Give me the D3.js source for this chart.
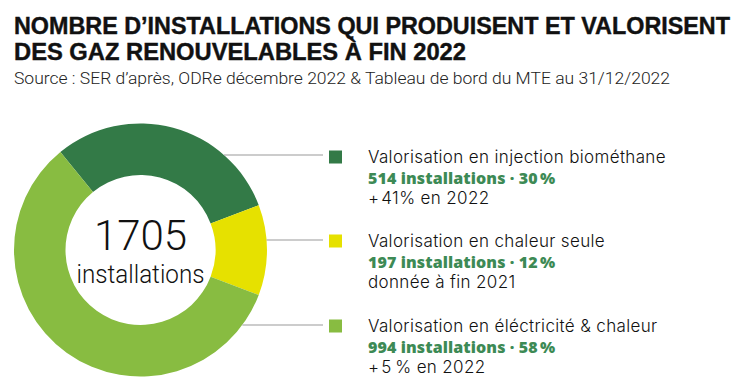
<!DOCTYPE html>
<html>
<head>
<meta charset="utf-8">
<script src="https://cdn.jsdelivr.net/npm/d3@7"></script>
<style>
  html, body { margin: 0; padding: 0; background: #fff; }
  svg { display: block; }
</style>
</head>
<body>
<div id="chart"></div>
<script>
// ---------------------------------------------------------------------------//
// Data
// ---------------------------------------------------------------------------//
const categories = [
  "Valorisation en injection biométhane",
  "Valorisation en chaleur seule",
  "Valorisation en éléctricité & chaleur",
];
const counts = [514, 197, 994];
const shares = ["30\u202f%", "12\u202f%", "58\u202f%"];
const notes = ["+\u200a41% en 2022", "donnée à fin 2021", "+\u200a5\u202f% en 2022"];
const colors = ["#337a47", "#e6e100", "#88bc41"];
const total = 1705;

const titleLines = [
  "NOMBRE D\u2019INSTALLATIONS QUI PRODUISENT ET VALORISENT",
  "DES GAZ RENOUVELABLES À FIN 2022",
];
const sourceText = "Source : SER d\u2019après, ODRe décembre 2022 & Tableau de bord du MTE au 31/12/2022";

// ---------------------------------------------------------------------------//
// Layout
// ---------------------------------------------------------------------------//
const width = 740;
const height = 389;
const cx = 140.5, cy = 250;
const outerR = 126.5, innerR = 75;
const legendX = 329, textX = 368;
const legendRows = [157, 241, 326]; // y of swatch centre
const fontFamily = "Roboto, 'Liberation Sans', sans-serif";
const legendFont = "Inter, Roboto, sans-serif";

const svg = d3.select("#chart")
  .append("svg")
  .attr("width", width)
  .attr("height", height);

// Title
svg.selectAll("text.title")
  .data(titleLines)
  .join("text")
  .attr("class", "title")
  .attr("x", 14)
  .attr("y", (d, i) => 34 + i * 26)
  .attr("font-family", "'Liberation Sans', Arial, sans-serif")
  .attr("font-weight", "bold")
  .attr("font-size", 23)
  .attr("fill", "#111")
  .attr("stroke", "#111")
  .attr("stroke-width", 0.4)
  .attr("textLength", (d, i) => (i === 0 ? 716 : 452))
  .attr("lengthAdjust", "spacingAndGlyphs")
  .text((d) => d);

svg.append("text")
  .attr("x", 14)
  .attr("y", 84)
  .attr("font-family", fontFamily)
  .attr("font-weight", 300)
  .attr("font-size", 16)
  .attr("fill", "#222")
  .attr("textLength", 656)
  .attr("lengthAdjust", "spacingAndGlyphs")
  .text(sourceText);

// ---------------------------------------------------------------------------//
// Donut
// ---------------------------------------------------------------------------//
const pie = d3.pie()
  .sort(null)
  .value((d) => d)
  .startAngle(-0.686)
  .endAngle(-0.686 + 2 * Math.PI);

const arc = d3.arc().innerRadius(innerR).outerRadius(outerR);

const donut = svg.append("g").attr("transform", `translate(${cx},${cy})`);

donut.selectAll("path")
  .data(pie(counts))
  .join("path")
  .attr("d", arc)
  .attr("fill", (d, i) => colors[i]);

donut.append("text")
  .attr("text-anchor", "middle")
  .attr("y", 0)
  .attr("font-family", fontFamily)
  .attr("font-weight", 300)
  .attr("font-size", 42)
  .attr("fill", "#111")
  .text(total);

donut.append("text")
  .attr("text-anchor", "middle")
  .attr("y", 33)
  .attr("font-family", fontFamily)
  .attr("font-weight", 300)
  .attr("font-size", 26)
  .attr("fill", "#111")
  .attr("textLength", 128)
  .attr("lengthAdjust", "spacingAndGlyphs")
  .text("installations");

// ---------------------------------------------------------------------------//
// Connectors + legend
// ---------------------------------------------------------------------------//
const connectorY = [155, 240, 325];
svg.selectAll("line.connector")
  .data(connectorY)
  .join("line")
  .attr("class", "connector")
  .attr("x1", (y) => cx + Math.sqrt(outerR * outerR - (y - cy) * (y - cy)))
  .attr("x2", 323)
  .attr("y1", (y) => y)
  .attr("y2", (y) => y)
  .attr("stroke", "#999")
  .attr("stroke-width", 1);

const legend = svg.selectAll("g.legend")
  .data(categories)
  .join("g")
  .attr("class", "legend")
  .attr("transform", (d, i) => `translate(0,${legendRows[i]})`);

legend.append("rect")
  .attr("x", legendX)
  .attr("y", -6.5)
  .attr("width", 13)
  .attr("height", 13)
  .attr("fill", (d, i) => colors[i]);

legend.append("text")
  .attr("x", textX)
  .attr("y", 6)
  .attr("font-family", legendFont)
  .attr("font-weight", 300)
  .attr("font-size", 17)
  .attr("letter-spacing", 0.35)
  .attr("fill", "#111")
  .text((d) => d);

legend.append("text")
  .attr("x", textX)
  .attr("y", 26.5)
  .attr("font-family", "'Open Sans', Lato, sans-serif")
  .attr("font-weight", 800)
  .attr("font-size", 16)
  .attr("letter-spacing", 0.1)
  .attr("fill", "#3d8a55")
  .text((d, i) => `${counts[i]} installations \u00b7 ${shares[i]}`);

legend.append("text")
  .attr("x", textX)
  .attr("y", 46.5)
  .attr("font-family", legendFont)
  .attr("font-weight", 300)
  .attr("font-size", 17)
  .attr("letter-spacing", 0.35)
  .attr("fill", "#111")
  .text((d, i) => notes[i]);
</script>
</body>
</html>
